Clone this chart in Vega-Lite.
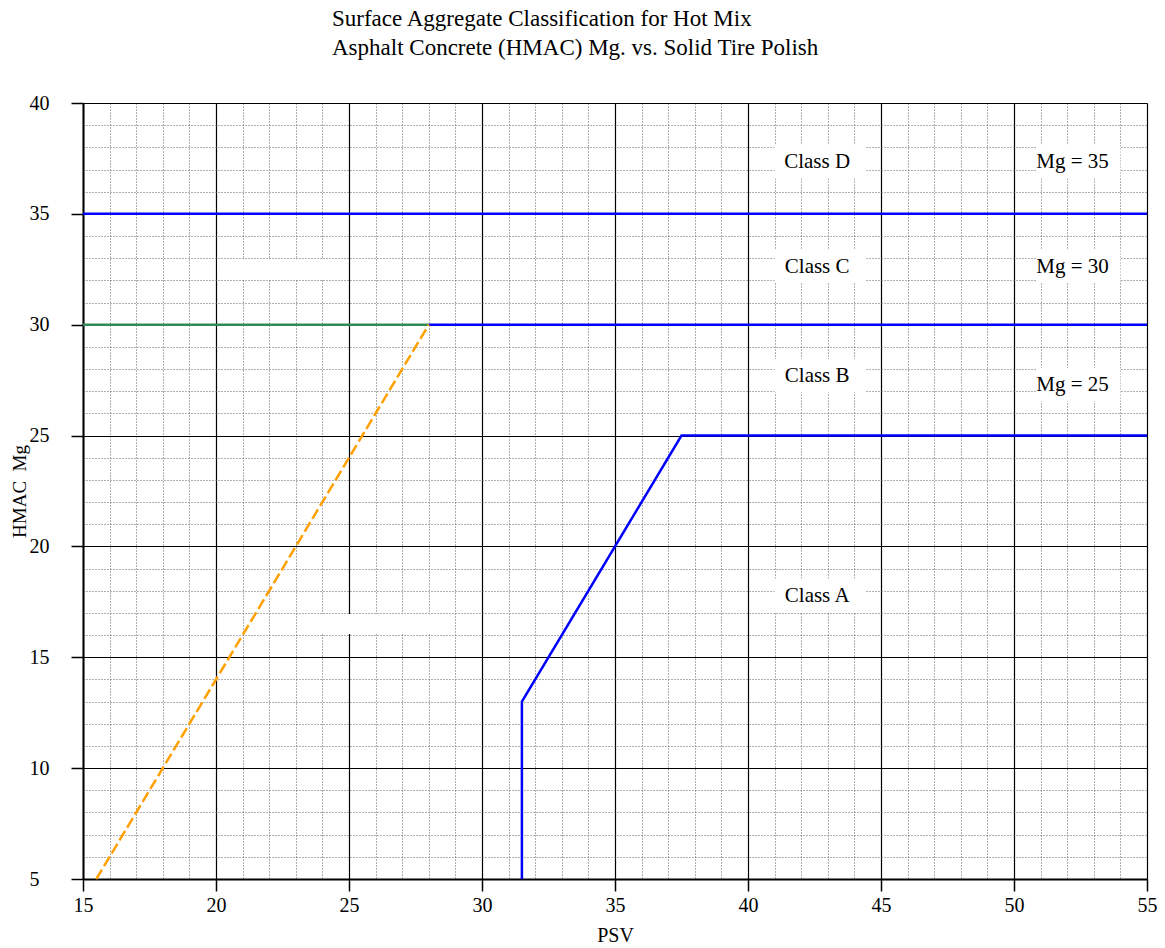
{
  "$schema": "https://vega.github.io/schema/vega-lite/v6.json",
  "width": 1064,
  "height": 776,
  "autosize": {"type": "none"},
  "padding": {"left": 83, "top": 103, "right": 18, "bottom": 69},
  "config": {
    "font": "Liberation Serif",
    "view": {"stroke": null},
    "axis": {
      "labelFont": "Liberation Serif",
      "titleFont": "Liberation Serif",
      "labelColor": "#000000",
      "titleColor": "#000000",
      "titleFontWeight": "normal",
      "domainColor": "#000000",
      "domainWidth": 2,
      "tickColor": "#000000",
      "tickWidth": 1.5,
      "tickSize": 12,
      "labelOverlap": false,
      "labelFlush": false
    }
  },
  "title": {
    "text": ["Surface Aggregate Classification for Hot Mix", "Asphalt Concrete (HMAC) Mg. vs. Solid Tire Polish"],
    "font": "Liberation Serif",
    "fontSize": 23,
    "fontWeight": "normal",
    "color": "#000000",
    "anchor": "start",
    "dx": 322,
    "lineHeight": 29,
    "offset": 33
  },
  "data": {
    "values": [
      {"kind": "line", "series": "A", "i": 1, "x": 31.5, "y": 5},
      {"kind": "line", "series": "A", "i": 2, "x": 31.5, "y": 13},
      {"kind": "line", "series": "A", "i": 3, "x": 37.5, "y": 25},
      {"kind": "line", "series": "A", "i": 4, "x": 55, "y": 25},
      {"kind": "line", "series": "B", "i": 1, "x": 28, "y": 30},
      {"kind": "line", "series": "B", "i": 2, "x": 55, "y": 30},
      {"kind": "line", "series": "C", "i": 1, "x": 15, "y": 35},
      {"kind": "line", "series": "C", "i": 2, "x": 55, "y": 35},
      {"kind": "line", "series": "G", "i": 1, "x": 15, "y": 30},
      {"kind": "line", "series": "G", "i": 2, "x": 28, "y": 30},
      {"kind": "dash", "series": "O", "i": 1, "x": 15.5, "y": 5},
      {"kind": "dash", "series": "O", "i": 2, "x": 28, "y": 30},
      {"kind": "box", "x": 41.0, "x2": 44.4, "y": 36.6, "y2": 38.1},
      {"kind": "box", "x": 50.85, "x2": 54.0, "y": 36.6, "y2": 38.1},
      {"kind": "box", "x": 41.0, "x2": 44.4, "y": 31.9, "y2": 33.4},
      {"kind": "box", "x": 50.85, "x2": 54.0, "y": 31.9, "y2": 33.4},
      {"kind": "box", "x": 41.0, "x2": 44.4, "y": 26.95, "y2": 28.45},
      {"kind": "box", "x": 50.85, "x2": 54.0, "y": 26.55, "y2": 28.05},
      {"kind": "box", "x": 41.0, "x2": 44.4, "y": 17.05, "y2": 18.55},
      {"kind": "box", "x": 20.05, "x2": 24.2, "y": 32.05, "y2": 32.95},
      {"kind": "box", "x": 23.5, "x2": 28.9, "y": 16.05, "y2": 16.95},
      {"kind": "label", "x": 42.6, "y": 37.35, "text": "Class D"},
      {"kind": "label", "x": 52.2, "y": 37.35, "text": "Mg = 35"},
      {"kind": "label", "x": 42.6, "y": 32.6, "text": "Class C"},
      {"kind": "label", "x": 52.2, "y": 32.6, "text": "Mg = 30"},
      {"kind": "label", "x": 42.6, "y": 27.7, "text": "Class B"},
      {"kind": "label", "x": 52.2, "y": 27.3, "text": "Mg = 25"},
      {"kind": "label", "x": 42.6, "y": 17.75, "text": "Class A"}
    ]
  },
  "encoding": {
    "x": {
      "field": "x",
      "type": "quantitative",
      "scale": {"domain": [15, 55], "nice": false, "zero": false},
      "axis": {
        "title": "PSV",
        "titleFontSize": 20,
        "titlePadding": 10,
        "labelFontSize": 20,
        "labelPadding": 4,
        "values": [15,16,17,18,19,20,21,22,23,24,25,26,27,28,29,30,31,32,33,34,35,36,37,38,39,40,41,42,43,44,45,46,47,48,49,50,51,52,53,54,55],
        "labelExpr": "datum.value % 5 === 0 ? datum.label : ''",
        "grid": true,
        "gridColor": {"condition": {"test": "datum.value % 5 === 0", "value": "#000000"}, "value": "#606060"},
        "gridDash": {"condition": {"test": "datum.value % 5 === 0", "value": []}, "value": [1, 2]},
        "gridWidth": {"condition": {"test": "datum.value % 5 === 0", "value": 1.2}, "value": 1},
        "tickOpacity": {"condition": {"test": "datum.value % 5 === 0", "value": 1}, "value": 0}
      }
    },
    "y": {
      "field": "y",
      "type": "quantitative",
      "scale": {"domain": [5, 40], "nice": false, "zero": false},
      "axis": {
        "title": "HMAC\u00a0\u00a0Mg",
        "titleFontSize": 19,
        "titlePadding": 0,
        "labelFontSize": 20,
        "labelAlign": "left",
        "labelPadding": 42,
        "values": [5,6,7,8,9,10,11,12,13,14,15,16,17,18,19,20,21,22,23,24,25,26,27,28,29,30,31,32,33,34,35,36,37,38,39,40],
        "labelExpr": "datum.value % 5 === 0 ? datum.label : ''",
        "grid": true,
        "gridColor": {"condition": {"test": "datum.value % 5 === 0", "value": "#000000"}, "value": "#606060"},
        "gridDash": {"condition": {"test": "datum.value % 5 === 0", "value": []}, "value": [1, 2]},
        "gridWidth": {"condition": {"test": "datum.value % 5 === 0", "value": 1.2}, "value": 1},
        "tickOpacity": {"condition": {"test": "datum.value % 5 === 0", "value": 1}, "value": 0}
      }
    }
  },
  "layer": [
    {
      "transform": [{"filter": "datum.kind === 'box'"}],
      "mark": {"type": "rect", "fill": "#ffffff", "strokeWidth": 0},
      "encoding": {
        "x2": {"field": "x2"},
        "y2": {"field": "y2"}
      }
    },
    {
      "transform": [{"filter": "datum.kind === 'line'"}],
      "mark": {"type": "line", "strokeWidth": 2.5},
      "encoding": {
        "detail": {"field": "series"},
        "order": {"field": "i"},
        "color": {
          "field": "series",
          "type": "nominal",
          "scale": {"domain": ["A", "B", "C", "G"], "range": ["#0000ff", "#0000ff", "#0000ff", "#2e8b57"]},
          "legend": null
        }
      }
    },
    {
      "transform": [{"filter": "datum.kind === 'dash'"}],
      "mark": {"type": "line", "strokeWidth": 2.5, "color": "#ffa000", "strokeDash": [11, 4]},
      "encoding": {
        "order": {"field": "i"}
      }
    },
    {
      "transform": [{"filter": "datum.kind === 'label'"}],
      "mark": {"type": "text", "font": "Liberation Serif", "fontSize": 21, "color": "#000000", "align": "center", "baseline": "middle"},
      "encoding": {
        "text": {"field": "text"}
      }
    }
  ]
}
